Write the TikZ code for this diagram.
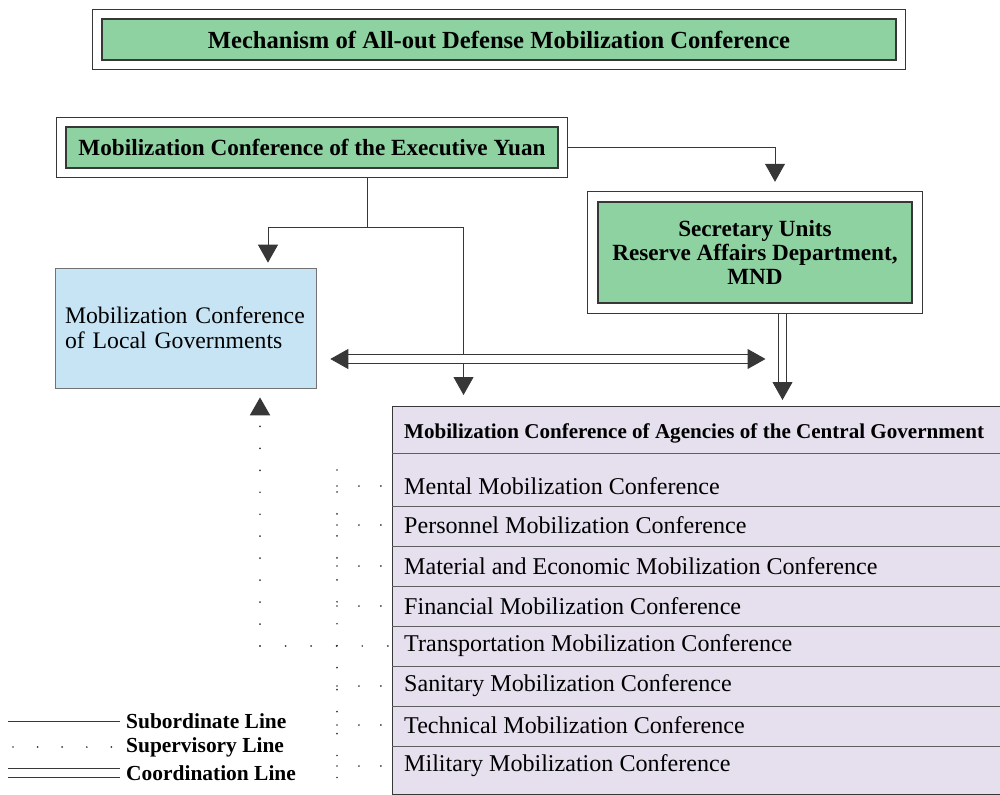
\documentclass[tikz,border=0pt]{standalone}
\usepackage{fontspec}
\setmainfont{Liberation Serif}
\usetikzlibrary{positioning, arrows.meta, fit, calc}

\definecolor{boxgreen}{RGB}{143,210,162}
\definecolor{localblue}{RGB}{198,228,244}
\definecolor{agencylilac}{RGB}{229,223,238}
\definecolor{inkgray}{RGB}{55,55,55}

\tikzset{
  greenbox/.style={draw=inkgray, fill=boxgreen, line width=0.8pt, text=black, align=center},
  framebox/.style={draw=inkgray, line width=0.6pt, inner sep=0.17cm},
  subline/.style={draw=inkgray, line width=0.5pt},
  supline/.style={draw=inkgray, line width=1.1pt, line cap=round, dash pattern=on 0pt off 12.5pt},
  cooline/.style={draw=inkgray, line width=0.6pt, double, double distance=4.4pt},
  headtip/.style={-{Triangle[width=0.4cm, length=0.36cm, fill=inkgray]}},
  rowtext/.style={anchor=west, font=\fontsize{13.7}{15}\selectfont},
  legendtext/.style={anchor=west, font=\bfseries\fontsize{12.2}{14}\selectfont},
}

\begin{document}
\begin{tikzpicture}[x=0.02cm, y=-0.02cm]
  \useasboundingbox (0,0) rectangle (1000,794);

  % --- title ---
  \node[greenbox, minimum width=15.88cm, minimum height=0.82cm,
        font=\bfseries\fontsize{14}{16}\selectfont] (mech) at (499,39.5)
        {Mechanism of All-out Defense Mobilization Conference};
  \node[framebox, fit=(mech)] (mechframe) {};

  % --- upper boxes ---
  \node[greenbox, minimum width=9.84cm, minimum height=0.82cm,
        font=\bfseries\fontsize{13.2}{15}\selectfont] (yuan) at (312,147.5)
        {Mobilization Conference of the Executive Yuan};
  \node[framebox, fit=(yuan)] (yuanframe) {};

  \node[greenbox, minimum width=6.28cm, minimum height=2.02cm,
        font=\bfseries\fontsize{13.2}{13.6}\selectfont] (sec) at (755,252.5)
        {Secretary Units\\Reserve Affairs Department,\\MND};
  \node[framebox, inner sep=0.2cm, fit=(sec)] (secframe) {};

  \node[draw=inkgray!70, fill=localblue, minimum width=5.22cm, minimum height=2.4cm,
        text width=4.82cm, align=left, font=\fontsize{13.5}{14.2}\selectfont] (local) at (185.5,328)
        {Mobilization Conference\\of Local Governments};

  % --- central agencies ---
  \node[draw=inkgray, line width=0.6pt, fill=agencylilac, minimum width=12.16cm, minimum height=7.76cm,
        anchor=north west, inner sep=0pt] (agency) at (392,406) {};
  \node[anchor=west, font=\bfseries\fontsize{12}{14}\selectfont] (central) at (398,433)
        {Mobilization Conference of Agencies of the Central Government};
  \foreach \y in {453,506,546,586,626,666,706,746}
    \draw[inkgray!80, line width=0.5pt] (392,\y) -- (1000,\y);

  \foreach \name/\txt/\y in {rmental/Mental Mobilization Conference/486,
                             rpersonnel/Personnel Mobilization Conference/525,
                             rmaterial/Material and Economic Mobilization Conference/566,
                             rfinance/Financial Mobilization Conference/606,
                             rtransport/Transportation Mobilization Conference/646,
                             rsanitary/Sanitary Mobilization Conference/686,
                             rtechnical/Technical Mobilization Conference/725,
                             rmilitary/Military Mobilization Conference/766}
    \node[rowtext] (\name) at (398,\y) {\txt};

  % --- subordinate lines ---
  \coordinate (ydrop) at ([xshift=1.1cm]yuanframe.south);
  \coordinate (ysplit) at ([yshift=-1cm]ydrop);
  \draw[subline] (ydrop) -- (ysplit);
  \draw[subline, headtip, shorten >=0.1cm] (ysplit) -| ([xshift=1.65cm]local.north);
  \draw[subline, headtip, shorten >=0.22cm] (ysplit) -| ([xshift=-4.66cm]agency.north);
  \draw[subline, headtip, shorten >=0.18cm] (yuanframe.east) -| ([xshift=0.4cm]secframe.north);

  % --- coordination lines ---
  \coordinate (secdrop) at ([xshift=0.55cm]secframe.south);
  \draw[cooline, headtip, shorten >=0.12cm] (secdrop) -- (secdrop |- agency.north);
  \coordinate (lcoo) at ([yshift=-0.62cm]local.east);
  \draw[cooline, {Triangle[width=0.4cm, length=0.36cm, fill=inkgray]}-{Triangle[width=0.4cm, length=0.36cm, fill=inkgray]},
        shorten <=0.28cm, shorten >=0.34cm] (lcoo) -- (lcoo -| secdrop);

  % --- supervisory lines ---
  \coordinate (supcorner) at (260,646);
  \draw[supline, headtip, shorten >=0.18cm] (supcorner) -- (supcorner |- local.south);
  \draw[supline, dash pattern=on 0pt off 14.55pt] (supcorner) -- (agency.west |- supcorner);
  \coordinate (spinetop) at (337,470);
  \coordinate (spinebot) at (337,790);
  \draw[supline] (spinetop) -- (spinebot);
  \foreach \name in {rmental, rpersonnel, rmaterial, rfinance, rsanitary, rtechnical, rmilitary}
    \draw[supline] (spinetop |- \name.west) -- (agency.west |- \name.west);

  % --- legend ---
  \node[legendtext] (lgsub) at (120,721) {Subordinate Line};
  \node[legendtext] (lgsup) at (120,747) {Supervisory Line};
  \node[legendtext] (lgcoo) at (120,773) {Coordination Line};
  \coordinate (legstart) at (8,0);
  \draw[subline] (legstart |- lgsub.west) -- (lgsub.west);
  \draw[supline, dash pattern=on 0pt off 14pt] ([xshift=0.1cm]legstart |- lgsup.west) -- (lgsup.west);
  \draw[cooline] (legstart |- lgcoo.west) -- (lgcoo.west);
\end{tikzpicture}
\end{document}
